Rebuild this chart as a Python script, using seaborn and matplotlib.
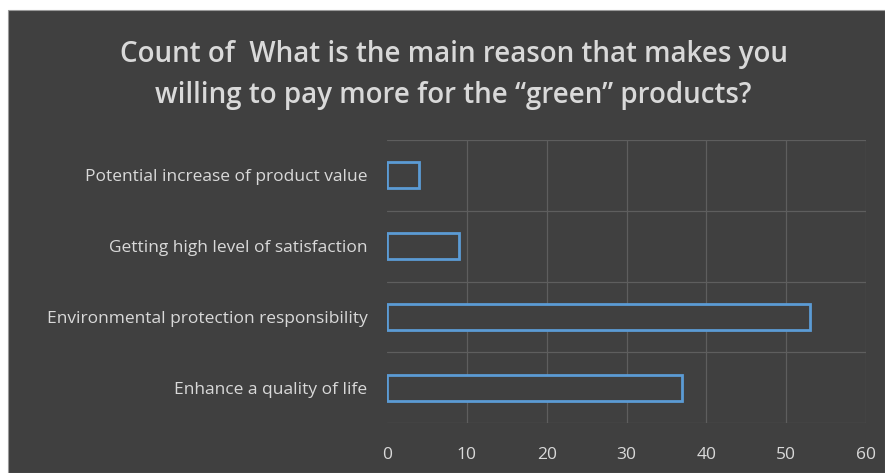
import matplotlib
matplotlib.use('Agg')
import matplotlib.pyplot as plt
import matplotlib.patches as mpatches
import seaborn as sns
import pandas as pd

# data (top to bottom as drawn)
categorias = ['Potential increase of product value',
              'Getting high level of satisfaction',
              'Environmental protection responsibility',
              'Enhance a quality of life']
conteos = [4, 9, 53, 37]
x_ticks = [0, 10, 20, 30, 40, 50, 60]

fondo = '#404040'
texto = '#d9d9d9'
rejilla = '#5e5e5e'
azul = '#5b9bd5'

sns.set_style("dark")
plt.rcParams['font.family'] = ['Open Sans', 'DejaVu Sans']

df = pd.DataFrame({'Razon': categorias, 'Conteo': conteos})

fig = plt.figure(figsize=(8.85, 4.73), dpi=100)
fig.patch.set_facecolor('white')
# dark panel, leaving the white strip at top and left
fig.patches.append(mpatches.Rectangle((8 / 885, 0), 1 - 8 / 885, 1 - 10 / 473,
                                      transform=fig.transFigure, facecolor=fondo,
                                      edgecolor='#9a9a9a', linewidth=0.8, zorder=-1))

ax = fig.add_axes([387 / 885, 1 - 423 / 473, (866 - 387) / 885, (423 - 140) / 473])
ax.set_facecolor(fondo)

sns.barplot(data=df, y='Razon', x='Conteo', orient='h', ax=ax, width=0.37,
            facecolor=fondo, edgecolor=azul, linewidth=2, zorder=3)

ax.set_xlim(0, 60)
ax.set_ylim(3.5, -0.5)
ax.set_xticks(x_ticks)
ax.set_xticklabels([str(t) for t in x_ticks])

# vertical grid at ticks, horizontal grid between categories (Excel style)
ax.grid(False)
for t in x_ticks[1:]:
    ax.axvline(t, color=rejilla, linewidth=0.9, zorder=1)
for b in [-0.5, 0.5, 1.5, 2.5, 3.5]:
    ax.axhline(b, color=rejilla, linewidth=0.9, zorder=1)

for s in ax.spines.values():
    s.set_visible(False)

ax.tick_params(axis='both', length=0, colors=texto, labelsize=12.5)
ax.tick_params(axis='y', pad=14)
ax.tick_params(axis='x', pad=17)
ax.set_xlabel('')
ax.set_ylabel('')

fig.text(0.5125, 1 - 75 / 473,
         'Count of  What is the main reason that makes you\nwilling to pay more for the \u201cgreen\u201d products?',
         ha='center', va='center', color=texto, fontsize=20, fontweight='semibold',
         linespacing=1.55)

plt.savefig('out.png', dpi=100)
